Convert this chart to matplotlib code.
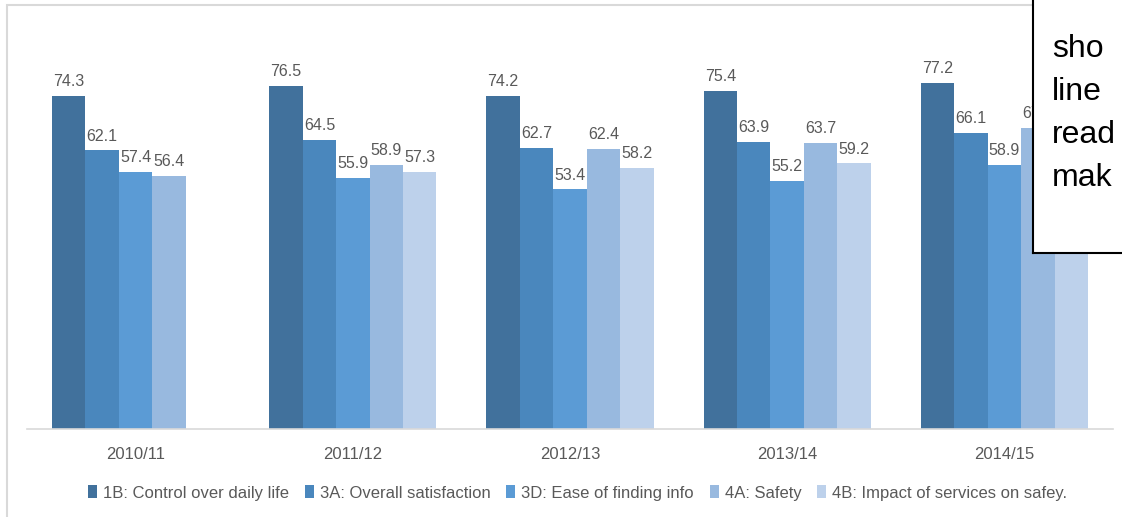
import numpy as np
import matplotlib.pyplot as plt
from matplotlib.patches import Rectangle

# Data
years = ["2010/11", "2011/12", "2012/13", "2013/14", "2014/15"]
series_names = [
    "1B: Control over daily life",
    "3A: Overall satisfaction",
    "3D: Ease of finding info",
    "4A: Safety",
    "4B: Impact of services on safey.",
]
control_daily_life = [74.3, 76.5, 74.2, 75.4, 77.2]
overall_satisfaction = [62.1, 64.5, 62.7, 63.9, 66.1]
ease_finding_info = [57.4, 55.9, 53.4, 55.2, 58.9]
safety = [56.4, 58.9, 62.4, 63.7, 67.2]
impact_on_safety = [np.nan, 57.3, 58.2, 59.2, 61.0]
# the last 4B value sits behind the text box: its label is not visible
impact_label_shown = [False, True, True, True, False]
box_lines = ["sho", "line", "read", "mak"]

colors = ["#41719c", "#4a87bd", "#5b9bd5", "#98b9df", "#bdd1eb"]
series = [control_daily_life, overall_satisfaction, ease_finding_info,
          safety, impact_on_safety]
label_flags = [[True] * 5] * 4 + [impact_label_shown]

plt.rcParams["font.family"] = ["Liberation Sans", "DejaVu Sans"]

W, H = 1122, 517
fig = plt.figure(figsize=(W / 100, H / 100), dpi=100)

# chart frame (light gray border, runs off the right and bottom edge)
fig.patches.append(Rectangle((7 / W, -0.1), 1.2, (H - 5) / H + 0.1,
                             transform=fig.transFigure, facecolor="none",
                             edgecolor="#d9d9d9", linewidth=1.5))

ax = fig.add_axes([27 / W, (H - 429) / H, (1113 - 27) / W, 403.7 / H])

x = np.arange(len(years))
n = len(series)
w = 1 / (n + 1.5)
for i, (vals, name, col) in enumerate(zip(series, series_names, colors)):
    pos = x + (i - (n - 1) / 2) * w
    ax.bar(pos, vals, width=w, color=col, label=name, linewidth=0)
    for xp, v, show in zip(pos, vals, label_flags[i]):
        if np.isnan(v) or not show:
            continue
        ax.annotate(f"{v:.1f}", (xp, v), xytext=(0, 5), textcoords="offset points",
                    ha="center", va="bottom", fontsize=11.5, color="#595959")

ax.set_xlim(-0.5, len(years) - 0.5)
ax.set_ylim(0, 90)
ax.set_xticks(x)
ax.set_xticklabels(years, fontsize=12, color="#595959")
ax.tick_params(axis="x", length=0, pad=13)
ax.set_yticks([])
for s in ["top", "right", "left"]:
    ax.spines[s].set_visible(False)
ax.spines["bottom"].set_color("#d9d9d9")
ax.spines["bottom"].set_linewidth(1.2)

leg = ax.legend(loc="upper center", bbox_to_anchor=(0.507, -0.102), ncol=5,
                frameon=False, fontsize=12, handlelength=0.55, handleheight=0.85,
                handletextpad=0.35, columnspacing=0.95)
for t in leg.get_texts():
    t.set_color("#595959")

# overlapping text box at the top right
box = fig.add_axes([1033 / W, (H - 253) / H, 0.2, 0.6], zorder=10)
box.set_xticks([])
box.set_yticks([])
box.set_facecolor("white")
for s in ["top", "right"]:
    box.spines[s].set_visible(False)
for s in ["left", "bottom"]:
    box.spines[s].set_color("black")
    box.spines[s].set_linewidth(1.5)
for k, line in enumerate(box_lines):
    fig.text(1052 / W, 1 - (57 + 43 * k) / H, line, fontsize=23,
             color="black", ha="left", va="baseline", zorder=11)

fig.savefig("out.png", dpi=100)
